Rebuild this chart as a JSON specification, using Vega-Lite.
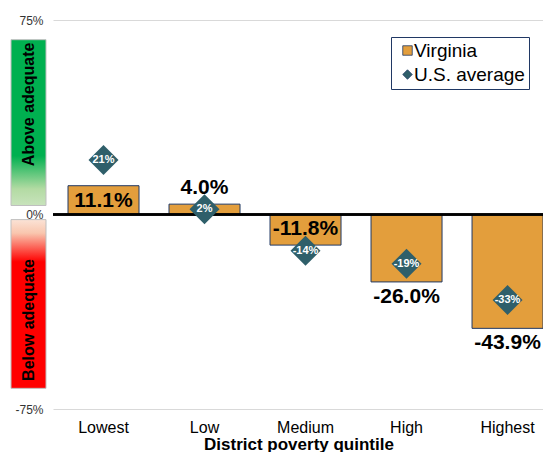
{
  "$schema": "https://vega.github.io/schema/vega-lite/v6.json",
  "padding": {"left": 10, "top": 14, "right": 0, "bottom": 0},
  "spacing": 7,
  "bounds": "flush",
  "config": {
    "font": "Liberation Sans",
    "view": {"stroke": null},
    "locale": {"number": {"decimal": ".", "thousands": ",", "grouping": [3], "currency": ["$", ""], "minus": "-"}}
  },
  "resolve": {"scale": {"x": "independent", "y": "independent"}},
  "hconcat": [
    {
      "width": 35,
      "height": 389,
      "data": {"values": [{}]},
      "layer": [
        {
          "mark": {"type": "rect", "stroke": "#BFBFBF", "strokeWidth": 1,
            "fill": {"gradient": "linear", "x1": 0, "y1": 0, "x2": 0, "y2": 1,
              "stops": [{"offset": 0, "color": "#00B050"}, {"offset": 0.7, "color": "#00B050"}, {"offset": 0.9, "color": "#B3DBA3"}, {"offset": 1, "color": "#C8E3BC"}]}},
          "encoding": {
            "x": {"datum": 0, "type": "quantitative", "scale": {"domain": [0, 1]}, "axis": null},
            "x2": {"datum": 1},
            "y": {"datum": 0.719, "type": "quantitative", "scale": {"domain": [-0.75, 0.75]}, "axis": null},
            "y2": {"datum": 0.037}
          }
        },
        {
          "mark": {"type": "rect", "stroke": "#BFBFBF", "strokeWidth": 1,
            "fill": {"gradient": "linear", "x1": 0, "y1": 0, "x2": 0, "y2": 1,
              "stops": [{"offset": 0, "color": "#FBE3D6"}, {"offset": 0.08, "color": "#F9C6AE"}, {"offset": 0.25, "color": "#FF0000"}, {"offset": 1, "color": "#FF0000"}]}},
          "encoding": {
            "x": {"datum": 0, "type": "quantitative"},
            "x2": {"datum": 1},
            "y": {"datum": -0.021, "type": "quantitative"},
            "y2": {"datum": -0.715}
          }
        },
        {
          "mark": {"type": "text", "angle": 270, "fontSize": 16, "fontWeight": "bold", "color": "black", "baseline": "middle", "align": "center"},
          "encoding": {
            "x": {"datum": 0.5, "type": "quantitative"},
            "y": {"datum": 0.453, "type": "quantitative"},
            "text": {"value": "Above adequate"}
          }
        },
        {
          "mark": {"type": "text", "angle": 270, "fontSize": 16, "fontWeight": "bold", "color": "black", "baseline": "middle", "align": "center"},
          "encoding": {
            "x": {"datum": 0.5, "type": "quantitative"},
            "y": {"datum": -0.434, "type": "quantitative"},
            "text": {"value": "Below adequate"}
          }
        }
      ]
    },
    {
      "width": 491,
      "height": 389,
      "data": {
        "values": [
          {"quintile": "Lowest", "series": "Virginia", "value": 0.111},
          {"quintile": "Low", "series": "Virginia", "value": 0.040},
          {"quintile": "Medium", "series": "Virginia", "value": -0.118},
          {"quintile": "High", "series": "Virginia", "value": -0.260},
          {"quintile": "Highest", "series": "Virginia", "value": -0.439},
          {"quintile": "Lowest", "series": "U.S. average", "value": 0.21},
          {"quintile": "Low", "series": "U.S. average", "value": 0.02},
          {"quintile": "Medium", "series": "U.S. average", "value": -0.14},
          {"quintile": "High", "series": "U.S. average", "value": -0.19},
          {"quintile": "Highest", "series": "U.S. average", "value": -0.33}
        ]
      },
      "encoding": {
        "x": {
          "field": "quintile", "type": "nominal",
          "sort": ["Lowest", "Low", "Medium", "High", "Highest"],
          "scale": {"type": "band", "paddingInner": 0.297, "paddingOuter": 0.079, "align": 0.94},
          "axis": {
            "title": "District poverty quintile", "titleFontSize": 17, "titleFontWeight": "bold", "titleColor": "black", "titlePadding": 1,
            "labelFontSize": 16, "labelColor": "black", "labelAngle": 0, "labelPadding": 10,
            "domain": false, "ticks": false, "grid": false
          }
        },
        "y": {
          "field": "value", "type": "quantitative",
          "scale": {"domain": [-0.75, 0.75], "nice": false},
          "axis": {
            "title": null, "values": [-0.75, 0, 0.75], "format": ".0%",
            "labelFontSize": 12, "labelColor": "#333333", "labelPadding": 10,
            "domain": false, "ticks": false, "grid": true, "gridColor": "#D9D9D9", "gridWidth": 1
          }
        }
      },
      "layer": [
        {
          "transform": [{"filter": "datum.series === 'Virginia'"}],
          "mark": {"type": "bar", "stroke": "#203864", "strokeWidth": 1},
          "encoding": {
            "color": {
              "field": "series", "type": "nominal",
              "scale": {"domain": ["Virginia", "U.S. average"], "range": ["#E39E3C", "#2F5F6A"]},
              "legend": {
                "title": null, "orient": "none", "legendX": 380, "legendY": 17,
                "strokeColor": "#203864", "fillColor": "white", "padding": 4, "rowPadding": 4,
                "labelFontSize": 19, "labelColor": "black", "symbolSize": 90,
                "symbolOffset": 3, "labelOffset": -3,
                "symbolStrokeColor": "#203864", "symbolStrokeWidth": 0.8
              }
            }
          }
        },
        {
          "mark": {"type": "rule", "color": "black", "strokeWidth": 1.5},
          "encoding": {"y": {"datum": 0}, "x": null}
        },
        {
          "transform": [{"filter": "datum.series === 'U.S. average'"}],
          "mark": {"type": "point", "filled": true, "size": 900, "opacity": 1},
          "encoding": {
            "color": {"field": "series", "type": "nominal"},
            "shape": {
              "field": "series", "type": "nominal",
              "scale": {"domain": ["Virginia", "U.S. average"], "range": ["square", "diamond"]}
            }
          }
        },
        {
          "transform": [{"filter": "datum.series === 'U.S. average'"}],
          "mark": {"type": "text", "color": "white", "fontSize": 11, "fontWeight": "bold", "baseline": "middle"},
          "encoding": {"text": {"field": "value", "format": ".0%"}}
        },
        {
          "transform": [{"filter": "datum.series === 'Virginia' && (datum.quintile === 'Low' || datum.quintile === 'Medium')"}],
          "mark": {"type": "text", "color": "black", "fontSize": 21, "fontWeight": "bold", "baseline": "middle", "dy": -16},
          "encoding": {"text": {"field": "value", "format": ".1%"}}
        },
        {
          "transform": [{"filter": "datum.series === 'Virginia' && datum.quintile !== 'Low' && datum.quintile !== 'Medium'"}],
          "mark": {"type": "text", "color": "black", "fontSize": 21, "fontWeight": "bold", "baseline": "middle", "dy": 15},
          "encoding": {"text": {"field": "value", "format": ".1%"}}
        }
      ]
    }
  ]
}
